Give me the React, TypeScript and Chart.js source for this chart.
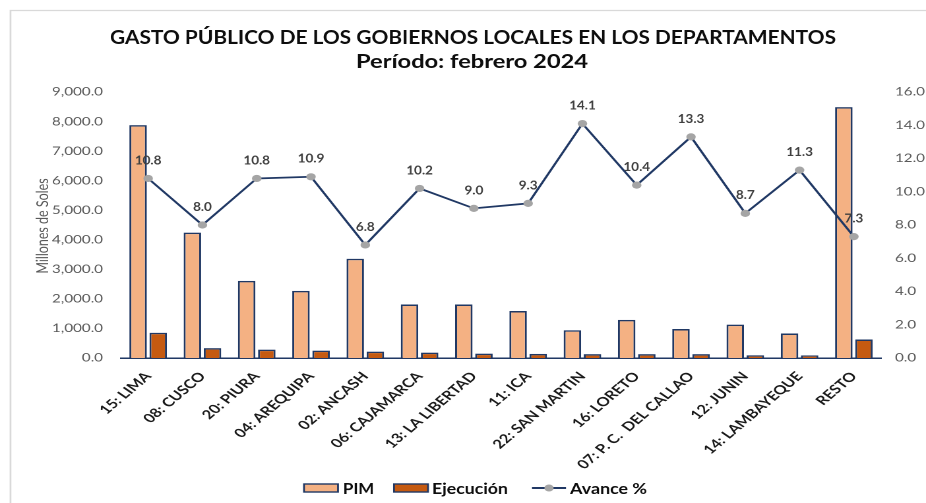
import { useEffect, useRef } from "react";
import { Chart, registerables } from "chart.js";

Chart.register(...registerables);

const W = 926;
const H = 503;
// the reference picture is stretched horizontally; the chart is laid out in a narrower
// space and the canvas is displayed stretched to the full width.
const CW = 702;
const SX = W / CW;
const X = (v: number) => v / SX;

const titleLine1 = "GASTO PÚBLICO DE LOS GOBIERNOS LOCALES EN LOS DEPARTAMENTOS";
const titleLine2 = "Período: febrero 2024";
const yAxisTitle = "Millones de Soles";

const categories = [
  "15: LIMA",
  "08: CUSCO",
  "20: PIURA",
  "04: AREQUIPA",
  "02: ANCASH",
  "06: CAJAMARCA",
  "13: LA LIBERTAD",
  "11: ICA",
  "22: SAN MARTIN",
  "16: LORETO",
  "07: P. C.  DEL CALLAO",
  "12: JUNIN",
  "14: LAMBAYEQUE",
  "RESTO",
];

const pim = [7880, 4240, 2610, 2270, 3360, 1810, 1810, 1590, 940, 1290, 980, 1130, 830, 8490];
const ejecucion = [855, 335, 285, 250, 215, 180, 150, 140, 130, 130, 130, 95, 90, 625];
const avance = [10.8, 8.0, 10.8, 10.9, 6.8, 10.2, 9.0, 9.3, 14.1, 10.4, 13.3, 8.7, 11.3, 7.3];

const leftTicks = { min: 0, max: 9000, step: 1000 };
const rightTicks = { min: 0, max: 16, step: 2 };

const FONT = "Lato, 'Open Sans', sans-serif";
const NAVY = "#203864";
const PIM_COLOR = "#F4B183";
const EJ_COLOR = "#C55A11";
const POINT_COLOR = "#A5A5A5";

function fillFitted(ctx: CanvasRenderingContext2D, text: string, cx: number, cy: number, width: number, align: "center" | "left") {
  const w = ctx.measureText(text).width;
  const k = width / w;
  ctx.save();
  ctx.translate(cx, cy);
  ctx.scale(k, 1);
  ctx.textAlign = align;
  ctx.fillText(text, 0, 0);
  ctx.restore();
}

const customPlugin = {
  id: "customDecor",
  beforeDraw(chart: any) {
    const ctx = chart.ctx as CanvasRenderingContext2D;
    ctx.save();
    ctx.fillStyle = "#ffffff";
    ctx.fillRect(0, 0, chart.width, chart.height);
    ctx.strokeStyle = "#D9D9D9";
    ctx.lineWidth = 1.3;
    ctx.beginPath();
    ctx.moveTo(X(10.5), chart.height);
    ctx.lineTo(X(10.5), 10.5);
    ctx.lineTo(chart.width, 10.5);
    ctx.stroke();

    // title
    ctx.fillStyle = "#0D0D0D";
    ctx.textBaseline = "middle";
    ctx.font = `bold 19px ${FONT}`;
    fillFitted(ctx, titleLine1, X(473), 38, X(726), "center");
    fillFitted(ctx, titleLine2, X(472), 62, X(232), "center");

    // y axis title
    ctx.save();
    ctx.translate(X(43), 226);
    ctx.rotate(-Math.PI / 2);
    ctx.fillStyle = "#595959";
    ctx.font = `12.5px ${FONT}`;
    ctx.textAlign = "center";
    ctx.fillText(yAxisTitle, 0, 0);
    ctx.restore();
    ctx.restore();
  },
  afterDatasetsDraw(chart: any) {
    const ctx = chart.ctx as CanvasRenderingContext2D;
    const lineIndex = chart.data.datasets.findIndex((d: any) => d.type === "line");
    const meta = chart.getDatasetMeta(lineIndex);
    ctx.save();
    ctx.fillStyle = "#404040";
    ctx.font = `bold 12px ${FONT}`;
    ctx.textBaseline = "middle";
    meta.data.forEach((pt: any, i: number) => {
      const v = chart.data.datasets[lineIndex].data[i] as number;
      const t = v.toFixed(1);
      const w = ctx.measureText(t).width * 0.85;
      fillFitted(ctx, t, pt.x, pt.y - 18, w, "center");
    });
    ctx.restore();
  },
  afterDraw(chart: any) {
    const ctx = chart.ctx as CanvasRenderingContext2D;
    const ds = chart.data.datasets;
    ctx.save();
    ctx.font = `bold 15px ${FONT}`;
    ctx.textBaseline = "middle";
    const y = 488;
    const items = [
      { x: 304, kind: "box", color: PIM_COLOR, label: ds[0].label, tx: 343, tw: 31 },
      { x: 394, kind: "box", color: EJ_COLOR, label: ds[1].label, tx: 432, tw: 76 },
      { x: 532, kind: "line", color: NAVY, label: ds[2].label, tx: 570, tw: 77 },
    ];
    items.forEach((it) => {
      if (it.kind === "box") {
        ctx.fillStyle = it.color;
        ctx.fillRect(X(it.x), y - 4, X(34), 8);
        ctx.strokeStyle = NAVY;
        ctx.lineWidth = 1.4;
        ctx.strokeRect(X(it.x), y - 4, X(34), 8);
      } else {
        ctx.strokeStyle = NAVY;
        ctx.lineWidth = 2;
        ctx.beginPath();
        ctx.moveTo(X(it.x), y);
        ctx.lineTo(X(it.x + 34), y);
        ctx.stroke();
        ctx.fillStyle = POINT_COLOR;
        ctx.beginPath();
        ctx.arc(X(it.x + 17), y, 3.5, 0, Math.PI * 2);
        ctx.fill();
      }
      ctx.fillStyle = "#0D0D0D";
      fillFitted(ctx, it.label, X(it.tx), y + 1, X(it.tw), "left");
    });
    ctx.restore();
  },
};

export default function App() {
  const ref = useRef<HTMLCanvasElement>(null);

  useEffect(() => {
    if (!ref.current) return;
    const chart = new Chart(ref.current, {
      type: "bar",
      data: {
        labels: categories,
        datasets: [
          {
            type: "bar",
            label: "PIM",
            data: pim,
            backgroundColor: PIM_COLOR,
            borderColor: NAVY,
            borderWidth: 1.5,
            yAxisID: "y",
            order: 1,
            categoryPercentage: 0.74,
            barPercentage: 0.87,
          },
          {
            type: "bar",
            label: "Ejecución",
            data: ejecucion,
            backgroundColor: EJ_COLOR,
            borderColor: NAVY,
            borderWidth: 1.5,
            yAxisID: "y",
            order: 1,
            categoryPercentage: 0.74,
            barPercentage: 0.87,
          },
          {
            type: "line",
            label: "Avance %",
            data: avance,
            borderColor: NAVY,
            borderWidth: 1.8,
            pointBackgroundColor: POINT_COLOR,
            pointBorderWidth: 0,
            pointRadius: 3.6,
            tension: 0,
            yAxisID: "y1",
            order: 0,
          },
        ] as any,
      },
      options: {
        responsive: false,
        animation: false,
        devicePixelRatio: 2,
        layout: { padding: { top: 92, left: 0, right: 0, bottom: 0 } },
        plugins: {
          legend: { display: false },
          title: { display: false },
          tooltip: { enabled: false },
        },
        scales: {
          x: {
            grid: { display: false, drawTicks: false },
            border: { display: true, color: NAVY, width: 1.5 },
            ticks: {
              autoSkip: false,
              minRotation: 48,
              maxRotation: 48,
              padding: 11,
              color: "#1A1A1A",
              font: { family: FONT, size: 12.5, weight: "bold" },
            },
            afterFit: (s: any) => {
              s.height = 145;
            },
          },
          y: {
            position: "left",
            min: leftTicks.min,
            max: leftTicks.max,
            grid: { display: false, drawTicks: false },
            border: { display: false },
            ticks: {
              stepSize: leftTicks.step,
              padding: X(18),
              color: "#595959",
              font: { family: FONT, size: 11.5 },
              callback: (v: any) =>
                Number(v).toLocaleString("en-US", { minimumFractionDigits: 1, maximumFractionDigits: 1 }),
            },
            afterFit: (s: any) => {
              s.width = X(121);
            },
          },
          y1: {
            position: "right",
            min: rightTicks.min,
            max: rightTicks.max,
            grid: { display: false, drawTicks: false },
            border: { display: false },
            ticks: {
              stepSize: rightTicks.step,
              padding: X(14),
              color: "#595959",
              font: { family: FONT, size: 11.5 },
              callback: (v: any) => Number(v).toFixed(1),
            },
            afterFit: (s: any) => {
              s.width = CW - X(881);
            },
          },
        },
      } as any,
      plugins: [customPlugin],
    });
    return () => chart.destroy();
  }, []);

  return (
    <div style={{ position: "absolute", left: 0, top: 0, width: W, height: H, background: "#fff" }}>
      <canvas
        ref={ref}
        width={CW}
        height={H}
        style={{ display: "block", width: `${W}px`, height: `${H}px` }}
      />
    </div>
  );
}
